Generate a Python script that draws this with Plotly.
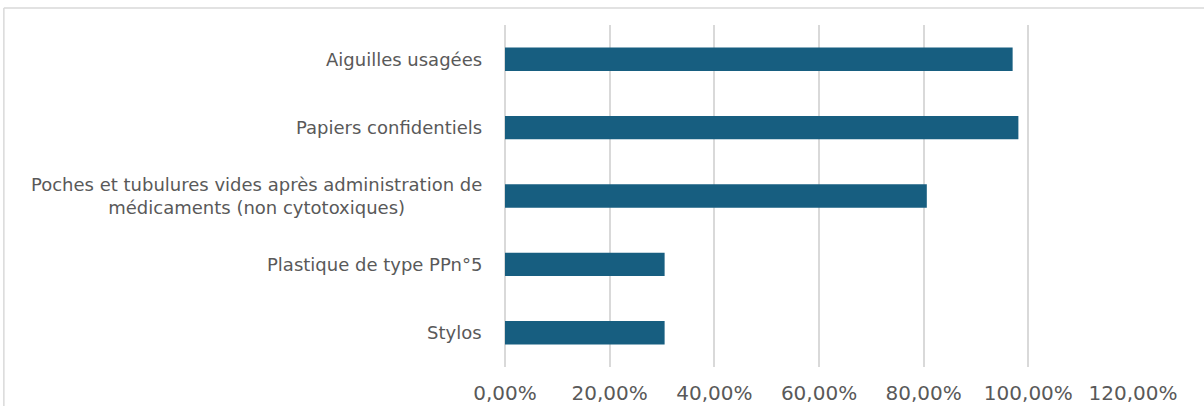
import plotly.graph_objects as go

categories = [
    "Aiguilles usagées",
    "Papiers confidentiels",
    "Poches et tubulures vides après administration de<br>médicaments (non cytotoxiques)",
    "Plastique de type PPn°5",
    "Stylos",
]
values = [0.970, 0.981, 0.806, 0.305, 0.305]
tick_values = [0, 0.2, 0.4, 0.6, 0.8, 1.0, 1.2]
tick_labels = ["0,00%", "20,00%", "40,00%", "60,00%", "80,00%", "100,00%", "120,00%"]

BAR = "#175E80"
TEXT = "#595959"
GRID = "#D9D9D9"
FONT = "DejaVu Sans"

fig = go.Figure()
fig.add_trace(go.Bar(
    y=categories, x=values, orientation="h",
    marker=dict(color=BAR, line=dict(width=0)),
    width=0.342, hoverinfo="skip",
))

for c in categories:
    fig.add_annotation(
        x=0, y=c, xref="x", yref="y", text=c, showarrow=False,
        xanchor="right", yanchor="middle", align="center", xshift=-21,
        font=dict(family=FONT, size=18, color=TEXT),
    )

# chart-area border (top and left edges visible in the crop)
fig.add_shape(type="line", xref="paper", yref="paper",
              x0=-0.798, x1=1.2, y0=1.0497, y1=1.0497,
              line=dict(color=GRID, width=1.5))
fig.add_shape(type="line", xref="paper", yref="paper",
              x0=-0.798, x1=-0.798, y0=-0.2, y1=1.0497,
              line=dict(color=GRID, width=1.5))

fig.update_layout(
    width=1204, height=406,
    margin=dict(l=505, r=71, t=25, b=39),
    paper_bgcolor="white", plot_bgcolor="white",
    showlegend=False,
    font=dict(family=FONT, color=TEXT, size=20),
    xaxis=dict(
        range=[0, 1.2], tickvals=tick_values, ticktext=tick_labels,
        showgrid=True, gridcolor=GRID, gridwidth=1.5,
        zeroline=True, zerolinecolor=GRID, zerolinewidth=1.5, showline=False,
        ticks="outside", ticklen=8, tickcolor="rgba(0,0,0,0)",
        tickfont=dict(family=FONT, size=20, color=TEXT),
        automargin=False,
    ),
    yaxis=dict(
        categoryorder="array", categoryarray=categories, autorange="reversed",
        showticklabels=False, showgrid=False, zeroline=False, showline=False,
    ),
)

fig.write_html(
    "out.html",
    config={"displayModeBar": False},
    post_script="document.body.style.margin='0';document.body.style.overflow='hidden';",
)
